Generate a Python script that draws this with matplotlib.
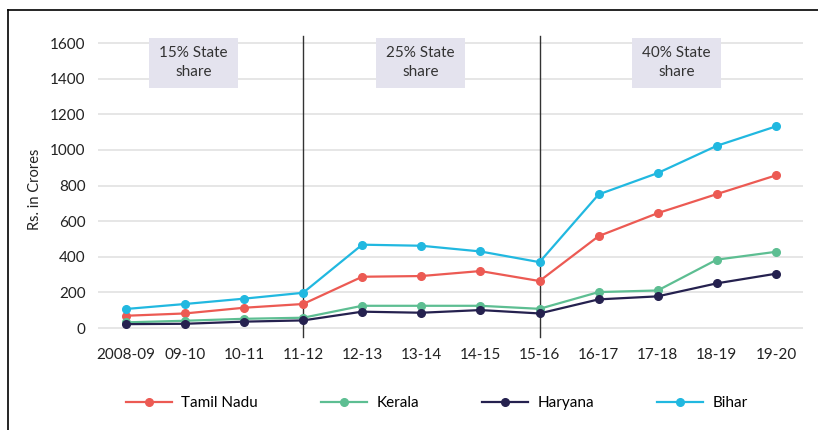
import numpy as np
import matplotlib.pyplot as plt
from matplotlib.patches import Rectangle
from matplotlib.lines import Line2D

plt.rcParams['font.family'] = ['Lato', 'DejaVu Sans']

# financial years on the x axis
years = ["2008-09", "09-10", "10-11", "11-12", "12-13", "13-14",
         "14-15", "15-16", "16-17", "17-18", "18-19", "19-20"]

# values (Rs. in crores)
tamil_nadu = [69, 82, 114, 135, 288, 292, 320, 264, 516, 645, 752, 857]
kerala = [32, 41, 52, 58, 125, 125, 125, 108, 202, 211, 384, 428]
haryana = [22, 24, 36, 43, 92, 86, 101, 82, 161, 178, 251, 305]
bihar = [107, 135, 165, 198, 468, 462, 430, 370, 750, 870, 1023, 1132]

states = ["Tamil Nadu", "Kerala", "Haryana", "Bihar"]
colors = ["#ec5a53", "#5dbe92", "#25214f", "#21b8e0"]

# phase boundaries and their labels
phase_lines = ["11-12", "15-16"]
phase_labels = ["15% State\nshare", "25% State\nshare", "40% State\nshare"]

fig = plt.figure(figsize=(8.18, 4.30), dpi=100)
ax = fig.add_axes([0.1198, 0.2093, 0.862, 0.7023])

x = np.arange(len(years))
for vals, name, c in zip([tamil_nadu, kerala, haryana, bihar], states, colors):
    ax.plot(x, vals, color=c, lw=1.6, marker="o", ms=5.5, label=name, zorder=4)

for p in phase_lines:
    xi = years.index(p)
    ax.plot([xi, xi], [-50, 1640], color="#333333", lw=1.0, zorder=3, clip_on=False)

# shaded label boxes
box_x = [0.39, 4.23, 8.56]
for bx, lab in zip(box_x, phase_labels):
    ax.add_patch(Rectangle((bx, 1345), 1.51, 285, facecolor="#e4e3ee",
                           edgecolor="none", zorder=2, clip_on=False))
    ax.text(bx + 0.755, 1491, lab, ha="center", va="center", fontsize=11,
            color="#333333", linespacing=1.5, zorder=5)

ax.set_xlim(-0.47, 11.46)
ax.set_ylim(-67, 1628)
ax.set_yticks(range(0, 1601, 200))
ax.set_xticks(x)
ax.set_xticklabels(years)
ax.grid(axis="y", color="#e2e2e2", lw=1.2, zorder=0)
ax.set_axisbelow(True)
for s in ax.spines.values():
    s.set_visible(False)
ax.tick_params(length=0, labelsize=11, colors="#222222", pad=6)
ax.tick_params(axis="y", pad=9)
ax.set_ylabel("Rs. in Crores", fontsize=10.5, color="#222222", labelpad=6)

fig.legend(loc="center", bbox_to_anchor=(0.534, 0.063), ncol=4, frameon=False,
           fontsize=11, handlelength=3.0, handletextpad=0.65, columnspacing=4.1)

# frame on the left and top edges
fig.add_artist(Line2D([0.0098, 0.0098], [0, 0.9767], color="black", lw=1.2))
fig.add_artist(Line2D([0.0098, 1], [0.9767, 0.9767], color="black", lw=1.2))

fig.savefig("out.png", dpi=100)
